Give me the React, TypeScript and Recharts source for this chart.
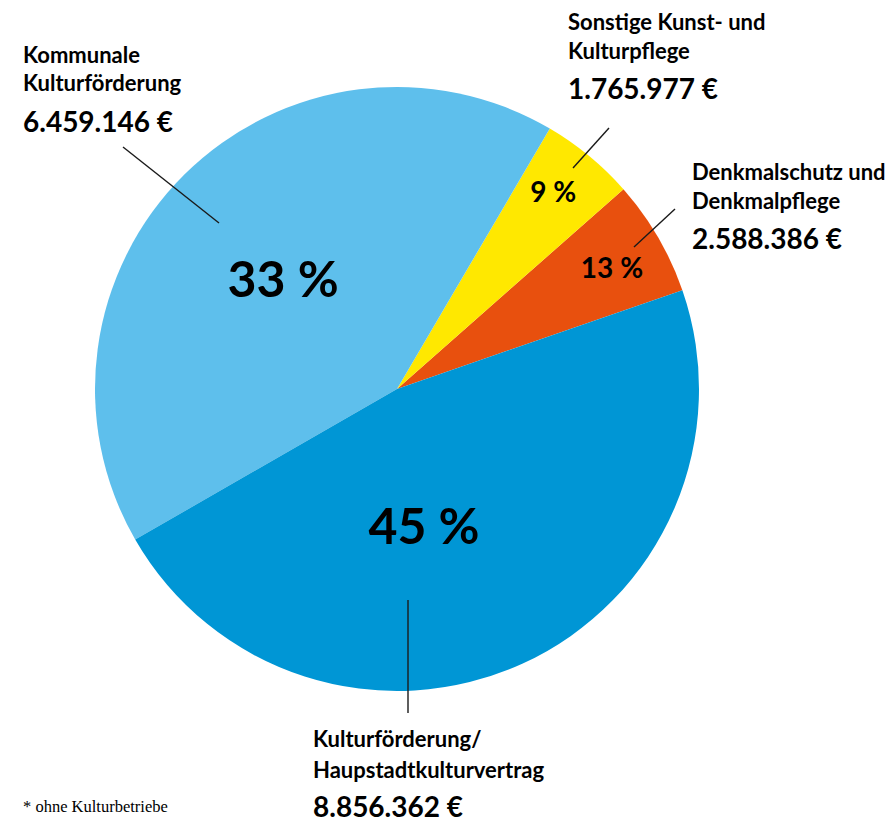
import React from "react";
import { PieChart, Pie, Cell } from "recharts";

// ---- data ----
const categories = [
  "Denkmalschutz und Denkmalpflege",
  "Sonstige Kunst- und Kulturpflege",
  "Kommunale Kulturförderung",
  "Kulturförderung/Haupstadtkulturvertrag",
];
// slice sizes as drawn in the picture (share of the full circle, %)
const sliceShares = [6.2, 5.05, 41.75, 47.0];
const percentLabels = ["13 %", "9 %", "33 %", "45 %"];
const amountLabels = ["2.588.386 €", "1.765.977 €", "6.459.146 €", "8.856.362 €"];
const labelLines = [
  ["Denkmalschutz und", "Denkmalpflege"],
  ["Sonstige Kunst- und", "Kulturpflege"],
  ["Kommunale", "Kulturförderung"],
  ["Kulturförderung/", "Haupstadtkulturvertrag"],
];
const footnote = "* ohne Kulturbetriebe";

// ---- styles / layout ----
const colors = ["#E8500E", "#FFE800", "#5EBFEC", "#0096D5"];
const W = 890;
const H = 826;
const CX = 397;
const CY = 389;
const R = 302;
const START = 19.1;
const FONT = "Lato, 'Noto Sans', sans-serif";

const innerLabelPolar = [
  { r: 246.5, a: 29.3, size: 28 },
  { r: 251.7, a: 51.6, size: 28 },
  { r: 158.6, a: 135.9, size: 50 },
  { r: 140.1, a: 281.1, size: 50 },
];

const outerLabelPos = [
  { x: 692, y: [180, 209], ay: 249 },
  { x: 568, y: [30, 59], ay: 99 },
  { x: 23, y: [63, 91], ay: 132 },
  { x: 313, y: [747, 778], ay: 817 },
];

const leaderLines = [
  { x1: 675, y1: 209, x2: 634, y2: 247 },
  { x1: 609, y1: 128, x2: 573, y2: 168 },
  { x1: 123, y1: 147, x2: 219, y2: 223 },
  { x1: 408, y1: 600, x2: 408, y2: 713 },
];

const chartData = categories.map((name, i) => ({ name, value: sliceShares[i] }));

const RAD = Math.PI / 180;

const renderInnerLabel = (props: any) => {
  const { cx, cy, index } = props;
  const p = innerLabelPolar[index];
  const x = cx + p.r * Math.cos(p.a * RAD);
  const yc = cy - p.r * Math.sin(p.a * RAD);
  return (
    <text
      key={`pl-${index}`}
      x={x}
      y={yc + p.size * 0.36}
      textAnchor="middle"
      fontFamily={FONT}
      fontWeight={700}
      fontSize={p.size}
      fill="#000"
    >
      {percentLabels[index]}
    </text>
  );
};

export default function App() {
  return (
    <div style={{ position: "absolute", left: 0, top: 0, width: W, height: H, background: "#fff" }}>
      <PieChart width={W} height={H} margin={{ top: 0, right: 0, bottom: 0, left: 0 }}>
        <Pie
          data={chartData}
          dataKey="value"
          nameKey="name"
          cx={CX}
          cy={CY}
          innerRadius={0}
          outerRadius={R}
          startAngle={START}
          endAngle={START + 360}
          stroke="none"
          label={renderInnerLabel}
          labelLine={false}
          isAnimationActive={false}
        >
          {chartData.map((d, i) => (
            <Cell key={d.name} fill={colors[i]} />
          ))}
        </Pie>
      </PieChart>
      <svg
        width={W}
        height={H}
        style={{ position: "absolute", left: 0, top: 0, pointerEvents: "none" }}
      >
        {leaderLines.map((l, i) => (
          <line key={`ll-${i}`} x1={l.x1} y1={l.y1} x2={l.x2} y2={l.y2} stroke="#1a1a1a" strokeWidth={1.4} />
        ))}
        {outerLabelPos.map((p, i) => (
          <g key={`ol-${i}`} fontFamily={FONT} fontWeight={700} fill="#000">
            {labelLines[i].map((t, j) => (
              <text key={j} x={p.x} y={p.y[j]} fontSize={22}>
                {t}
              </text>
            ))}
            <text x={p.x} y={p.ay} fontSize={28}>
              {amountLabels[i]}
            </text>
          </g>
        ))}
        <text x={23} y={812} fontFamily="'Liberation Serif', serif" fontSize={16.5} fill="#000">
          {footnote}
        </text>
      </svg>
    </div>
  );
}
